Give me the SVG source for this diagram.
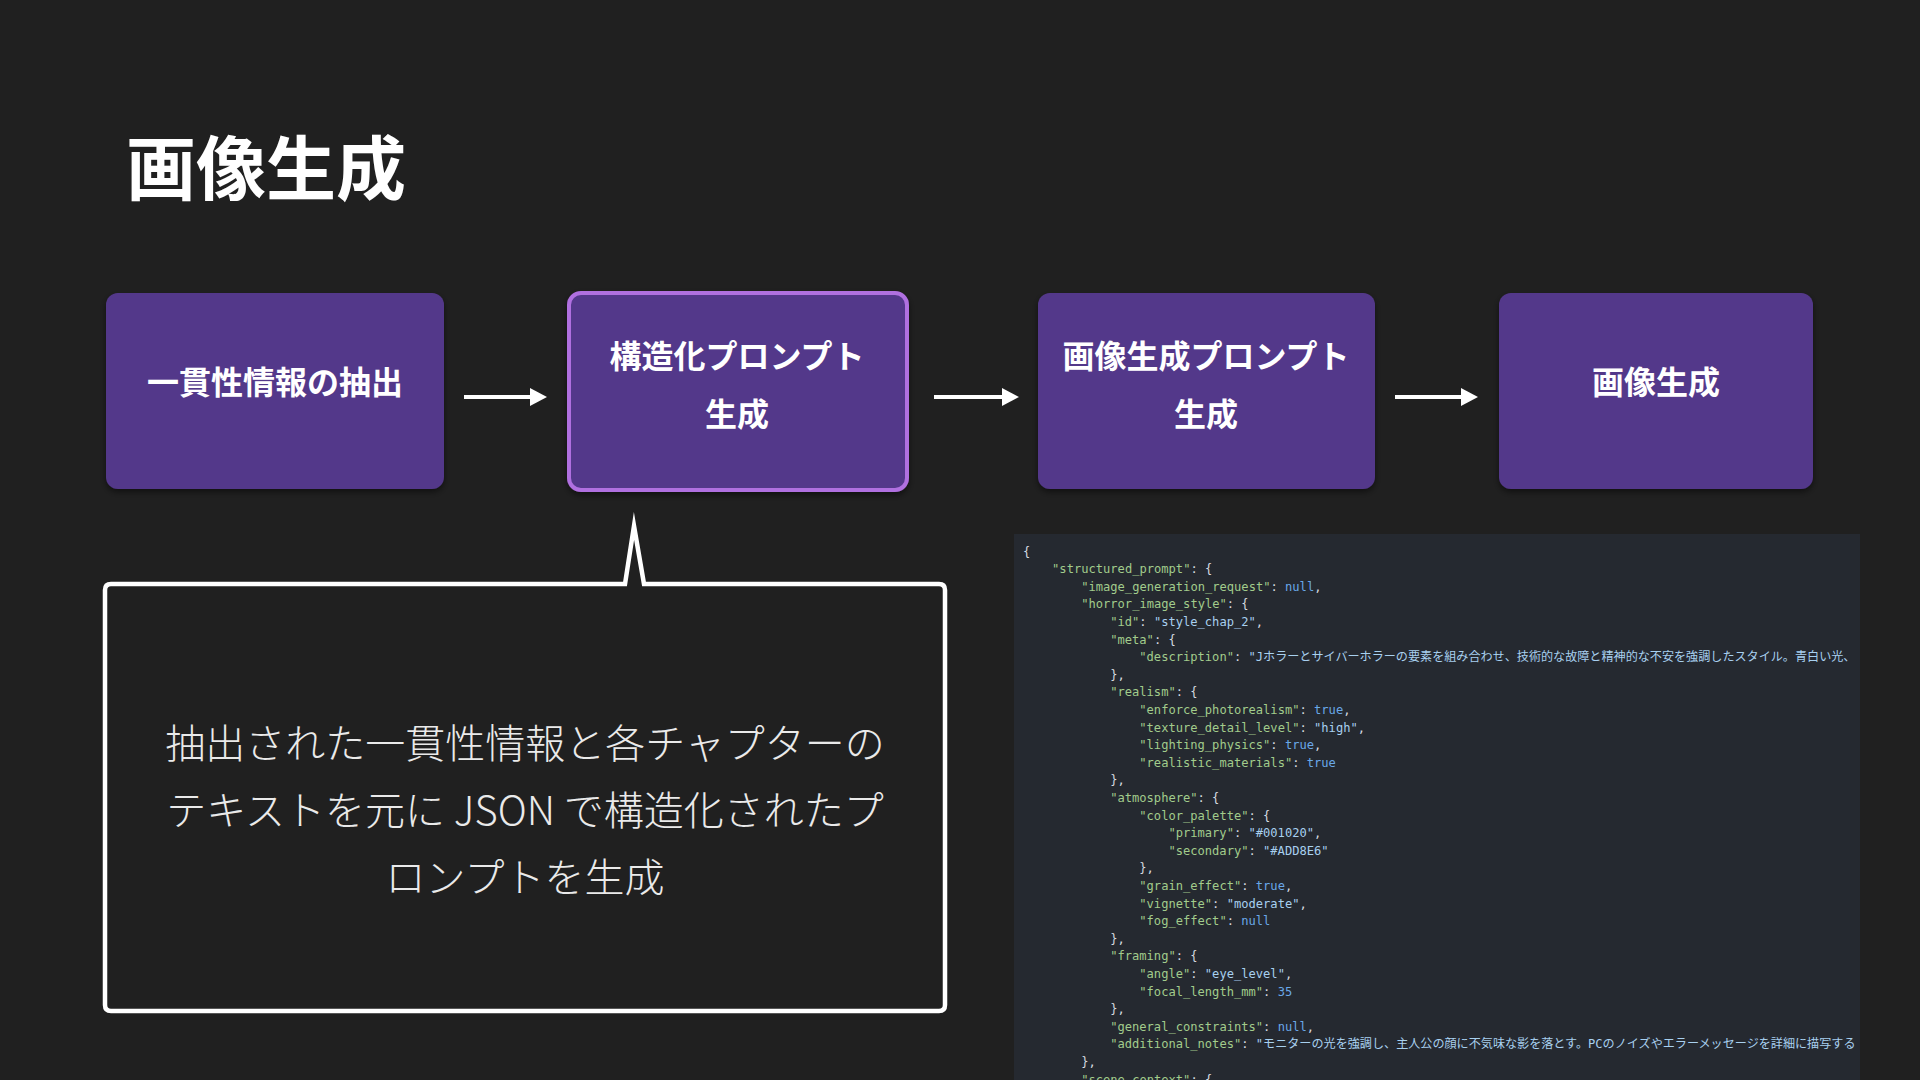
<svg xmlns="http://www.w3.org/2000/svg" width="1920" height="1080" viewBox="0 0 1920 1080">
<defs>
<style>
.title{font-family:"Noto Sans CJK JP","Noto Sans",sans-serif;font-weight:700;font-size:70px;fill:#ffffff}
.node{fill:#53388a}
.sel{stroke:#b06fe0;stroke-width:4}
.nt{font-family:"Noto Sans CJK JP","Noto Sans",sans-serif;font-weight:700;font-size:32px;fill:#ffffff;text-anchor:middle}
.conn{stroke:#ffffff;stroke-width:4;fill:none}
.ct{font-family:"Noto Sans CJK JP","Noto Sans",sans-serif;font-weight:300;font-size:40px;fill:#eaeaea;text-anchor:middle}
.c{font-family:"DejaVu Sans Mono","Noto Sans CJK JP",monospace;font-size:12.1px;fill:#d6dbe1}
.k{fill:#a2cc8c}
.s{fill:#a8d0ef}
.v{fill:#6aa8e8}
</style>
<filter id="sh" x="-10%" y="-10%" width="120%" height="130%">
<feDropShadow dx="0" dy="3" stdDeviation="3" flood-color="#000000" flood-opacity="0.5"/>
</filter>
<clipPath id="codeclip"><rect x="1014" y="534" width="846" height="546"/></clipPath>
</defs>
<rect x="0" y="0" width="1920" height="1080" fill="#202020"/>
<text class="title" x="126" y="195">画像生成</text>

<g id="connectors">
<line class="conn" x1="464" y1="397" x2="530" y2="397"/>
<path d="M530,388 L547,397 L530,406 Z" fill="#ffffff"/>
<line class="conn" x1="934" y1="397" x2="1002" y2="397"/>
<path d="M1002,388 L1019,397 L1002,406 Z" fill="#ffffff"/>
<line class="conn" x1="1395" y1="397" x2="1461" y2="397"/>
<path d="M1461,388 L1478,397 L1461,406 Z" fill="#ffffff"/>
</g>

<g id="node-extract">
<rect class="node" x="106" y="293" width="338" height="196" rx="12" filter="url(#sh)"/>
<text class="nt" x="275" y="394">一貫性情報の抽出</text>
</g>
<g id="node-structured">
<rect class="node sel" x="569" y="293" width="338" height="197" rx="12" filter="url(#sh)"/>
<text class="nt" x="737" y="368">構造化プロンプト</text>
<text class="nt" x="737" y="426">生成</text>
</g>
<g id="node-imageprompt">
<rect class="node" x="1038" y="293" width="337" height="196" rx="12" filter="url(#sh)"/>
<text class="nt" x="1206" y="368">画像生成プロンプト</text>
<text class="nt" x="1206" y="426">生成</text>
</g>
<g id="node-image">
<rect class="node" x="1499" y="293" width="314" height="196" rx="12" filter="url(#sh)"/>
<text class="nt" x="1656" y="394">画像生成</text>
</g>

<g id="callout">
<path d="M111,584 L625,584 L634,526 L644,584 L939,584 Q945,584 945,590 L945,1005 Q945,1011 939,1011 L111,1011 Q105,1011 105,1005 L105,590 Q105,584 111,584 Z" fill="#202020" stroke="#ffffff" stroke-width="4.5" stroke-linejoin="miter" stroke-miterlimit="20"/>
<text class="ct" x="525" y="758">抽出された一貫性情報と各チャプターの</text>
<text class="ct" x="525" y="825">テキストを元に JSON で構造化されたプ</text>
<text class="ct" x="525" y="892">ロンプトを生成</text>
</g>

<g id="code-block">
<rect x="1014" y="534" width="846" height="546" fill="#252930"/>
<g clip-path="url(#codeclip)" class="c">
<text x="1023" y="555.5">{</text>
<text x="1052.1" y="573.1"><tspan class="k">"structured_prompt"</tspan>: {</text>
<text x="1081.2" y="590.7"><tspan class="k">"image_generation_request"</tspan>: <tspan class="v">null</tspan>,</text>
<text x="1081.2" y="608.3"><tspan class="k">"horror_image_style"</tspan>: {</text>
<text x="1110.2" y="625.9"><tspan class="k">"id"</tspan>: <tspan class="s">"style_chap_2"</tspan>,</text>
<text x="1110.2" y="643.5"><tspan class="k">"meta"</tspan>: {</text>
<text x="1139.3" y="661.1"><tspan class="k">"description"</tspan>: <tspan class="s">"Jホラーとサイバーホラーの要素を組み合わせ、技術的な故障と精神的な不安を強調したスタイル。青白い光、</tspan></text>
<text x="1110.2" y="678.7">},</text>
<text x="1110.2" y="696.3"><tspan class="k">"realism"</tspan>: {</text>
<text x="1139.3" y="713.9"><tspan class="k">"enforce_photorealism"</tspan>: <tspan class="v">true</tspan>,</text>
<text x="1139.3" y="731.5"><tspan class="k">"texture_detail_level"</tspan>: <tspan class="s">"high"</tspan>,</text>
<text x="1139.3" y="749.1"><tspan class="k">"lighting_physics"</tspan>: <tspan class="v">true</tspan>,</text>
<text x="1139.3" y="766.7"><tspan class="k">"realistic_materials"</tspan>: <tspan class="v">true</tspan></text>
<text x="1110.2" y="784.3">},</text>
<text x="1110.2" y="801.9"><tspan class="k">"atmosphere"</tspan>: {</text>
<text x="1139.3" y="819.5"><tspan class="k">"color_palette"</tspan>: {</text>
<text x="1168.4" y="837.1"><tspan class="k">"primary"</tspan>: <tspan class="s">"#001020"</tspan>,</text>
<text x="1168.4" y="854.7"><tspan class="k">"secondary"</tspan>: <tspan class="s">"#ADD8E6"</tspan></text>
<text x="1139.3" y="872.3">},</text>
<text x="1139.3" y="889.9"><tspan class="k">"grain_effect"</tspan>: <tspan class="v">true</tspan>,</text>
<text x="1139.3" y="907.5"><tspan class="k">"vignette"</tspan>: <tspan class="s">"moderate"</tspan>,</text>
<text x="1139.3" y="925.1"><tspan class="k">"fog_effect"</tspan>: <tspan class="v">null</tspan></text>
<text x="1110.2" y="942.7">},</text>
<text x="1110.2" y="960.3"><tspan class="k">"framing"</tspan>: {</text>
<text x="1139.3" y="977.9"><tspan class="k">"angle"</tspan>: <tspan class="s">"eye_level"</tspan>,</text>
<text x="1139.3" y="995.5"><tspan class="k">"focal_length_mm"</tspan>: <tspan class="v">35</tspan></text>
<text x="1110.2" y="1013.1">},</text>
<text x="1110.2" y="1030.7"><tspan class="k">"general_constraints"</tspan>: <tspan class="v">null</tspan>,</text>
<text x="1110.2" y="1048.3"><tspan class="k">"additional_notes"</tspan>: <tspan class="s">"モニターの光を強調し、主人公の顔に不気味な影を落とす。PCのノイズやエラーメッセージを詳細に描写する</tspan></text>
<text x="1081.2" y="1065.9">},</text>
<text x="1081.2" y="1083.5"><tspan class="k">"scene_context"</tspan>: {</text>
</g>
</g>
</svg>
